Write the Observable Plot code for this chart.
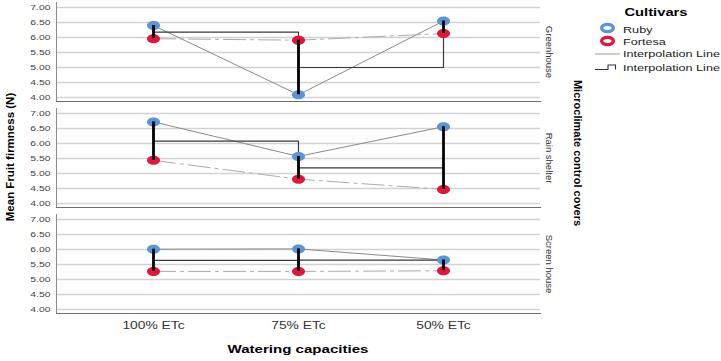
<!DOCTYPE html>
<html><head><meta charset="utf-8">
<script src="https://cdn.jsdelivr.net/npm/d3@7"></script>
<script src="https://cdn.jsdelivr.net/npm/@observablehq/plot@0.6"></script>
<style>body{margin:0;background:#fff;} #chart{width:721px;height:361px;position:relative;}</style>
</head><body><div id="chart"></div>
<script>
// ---- data ----
const covers = ["Greenhouse", "Rain shelter", "Screen house"];
const waterLevels = ["100% ETc", "75% ETc", "50% ETc"];
const cultivars = ["Ruby", "Fortesa"];
const rubyGreenhouse = [6.40, 4.09, 6.55];
const fortesaGreenhouse = [5.96, 5.91, 6.13];
const rubyRainShelter = [6.72, 5.57, 6.56];
const fortesaRainShelter = [5.44, 4.81, 4.47];
const rubyScreenHouse = [6.01, 6.02, 5.65];
const fortesaScreenHouse = [5.27, 5.27, 5.29];
const yTicks = [4.0, 4.5, 5.0, 5.5, 6.0, 6.5, 7.0];
const cultivarColors = ["#5b95d6", "#e0173c"];

const rubyValues = [rubyGreenhouse, rubyRainShelter, rubyScreenHouse];
const fortesaValues = [fortesaGreenhouse, fortesaRainShelter, fortesaScreenHouse];

const rows = [];
const pairs = [];
covers.forEach((c, i) => {
  waterLevels.forEach((w, j) => {
    const r = rubyValues[i][j], f = fortesaValues[i][j];
    rows.push({cover: c, water: w, cultivar: "Ruby", value: r});
    rows.push({cover: c, water: w, cultivar: "Fortesa", value: f});
    pairs.push({cover: c, water: w, ruby: r, fortesa: f, mean: (r + f) / 2});
  });
});

const ellipse = {
  draw(ctx, size) {
    const r = Math.sqrt(size / Math.PI), rx = r * 1.45, ry = r, k = 0.5523;
    ctx.moveTo(rx, 0);
    ctx.bezierCurveTo(rx, ry * k, rx * k, ry, 0, ry);
    ctx.bezierCurveTo(-rx * k, ry, -rx, ry * k, -rx, 0);
    ctx.bezierCurveTo(-rx, -ry * k, -rx * k, -ry, 0, -ry);
    ctx.bezierCurveTo(rx * k, -ry, rx, -ry * k, rx, 0);
    ctx.closePath();
  }
};

const font = "'Liberation Sans', Arial, sans-serif";

const svg = Plot.plot({
  width: 721, height: 361,
  marginLeft: 56, marginRight: 181, marginTop: 1, marginBottom: 46,
  style: {fontFamily: font, background: "#fff", color: "#333", overflow: "visible"},
  x: {type: "point", domain: waterLevels, padding: 0.66, axis: null},
  y: {domain: [4, 7], insetTop: 5, insetBottom: 4, axis: null},
  fy: {domain: covers, paddingInner: 0.0654, paddingOuter: 0, axis: null},
  color: {domain: cultivars, range: cultivarColors},
  marks: [
    Plot.ruleY(yTicks, {stroke: "#d2d2d2", strokeWidth: 1.3}),
    Plot.frame({anchor: "left", stroke: "#8c8c8c"}),
    Plot.frame({anchor: "bottom", stroke: "#6e6e6e", strokeWidth: 1.2}),
    Plot.axisY({ticks: yTicks, tickFormat: d3.format(".2f"), tickSize: 0, tickPadding: 6, fontSize: 7.5, label: null, fill: "#444"}),
    Plot.axisX({tickSize: 0, tickPadding: 8, fontSize: 10, label: null, fill: "#333"}),
    Plot.text(covers, {fy: d => d, text: d => d, frameAnchor: "right", dx: 9, rotate: 90, textAnchor: "middle", fontSize: 9.5, fill: "#333"}),
    Plot.line(rows.filter(d => d.cultivar === "Ruby"), {x: "water", y: "value", fy: "cover", stroke: "#8a8a8a", strokeWidth: 1}),
    Plot.line(rows.filter(d => d.cultivar === "Fortesa"), {x: "water", y: "value", fy: "cover", stroke: "#ababab", strokeWidth: 1, strokeDasharray: "22,5,3,5"}),
    Plot.line(pairs, {x: "water", y: "mean", fy: "cover", curve: "step-after", stroke: "#3a3a3a", strokeWidth: 1.2}),
    Plot.dot(rows, {x: "water", y: "value", fy: "cover", fill: "cultivar", r: 4.5, symbol: ellipse}),
    Plot.ruleX(pairs, {x: "water", y1: "ruby", y2: "fortesa", fy: "cover", stroke: "#000", strokeWidth: 2.8})
  ]
});
document.getElementById("chart").appendChild(svg);

const s = d3.select(svg);
// axis titles
s.append("text")
  .attr("transform", "translate(10,157) rotate(-90)")
  .attr("text-anchor", "middle").attr("dy", "0.35em")
  .style("font", `bold 11.5px ${font}`).attr("fill", "#000")
  .text("Mean Fruit firmness (N)");
s.append("text")
  .attr("transform", "translate(578,153) rotate(90)")
  .attr("text-anchor", "middle").attr("dy", "0.35em")
  .style("font", `bold 11px ${font}`).attr("fill", "#000")
  .text("Microclimate control covers");
const xTitle = s.append("text")
  .attr("x", 298).attr("y", 349).attr("text-anchor", "middle").attr("dy", "0.35em")
  .style("font", `bold 11px ${font}`).attr("fill", "#000")
  .text("Watering capacities");

// legend
const lg = s.append("g").attr("text-anchor", "start");
const lgTitle = lg.append("text").attr("x", 656).attr("y", 12).attr("dy", "0.35em").attr("text-anchor", "middle")
  .style("font", `bold 11px ${font}`).attr("fill", "#000").text("Cultivars");
[["Ruby", 28, cultivarColors[0]], ["Fortesa", 41, cultivarColors[1]]].forEach(([name, y, col]) => {
  lg.append("ellipse").attr("cx", 607.5).attr("cy", y).attr("rx", 5.9).attr("ry", 3.7)
    .attr("fill", "#fff").attr("stroke", col).attr("stroke-width", 3.3);
});
const lgTexts = [["Ruby", 30], ["Fortesa", 42], ["Interpolation Line", 54], ["Interpolation Line", 67.5]];
lgTexts.forEach(([t, y]) => {
  lg.append("text").attr("class", "lgt").attr("x", 623).attr("y", y).attr("dy", "0.35em")
    .attr("text-anchor", "start")
    .style("font", `9.5px ${font}`).attr("fill", "#222").text(t);
});
lg.append("line").attr("x1", 595).attr("x2", 620).attr("y1", 54).attr("y2", 54).attr("stroke", "#999").attr("stroke-width", 1);
lg.append("path").attr("d", "M595,69.5H608V65H615.5V69.5").attr("fill", "none").attr("stroke", "#333").attr("stroke-width", 1.1);

// widen horizontal text to match the reference's wide lettering
function stretch(sel, f) {
  sel.each(function () {
    const L = this.getComputedTextLength();
    if (L > 0) {
      this.setAttribute("textLength", (L * f).toFixed(2));
      this.setAttribute("lengthAdjust", "spacingAndGlyphs");
    }
  });
}
stretch(s.selectAll('g[aria-label="y-axis tick label"] text'), 1.38);
stretch(s.selectAll('g[aria-label="x-axis tick label"] text'), 1.38);
stretch(xTitle, 1.37);
stretch(lgTitle, 1.34);
stretch(s.selectAll("text.lgt"), 1.33);
</script>
</body></html>
